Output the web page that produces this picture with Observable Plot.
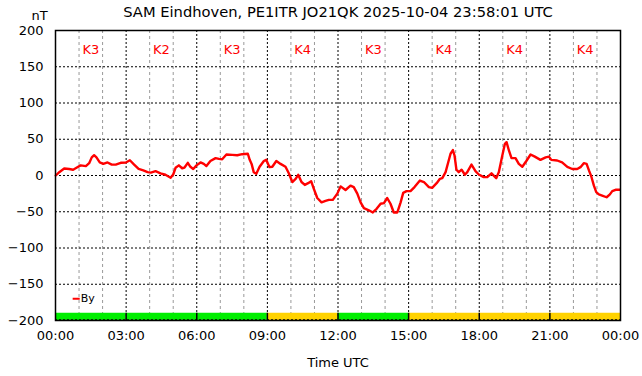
<!DOCTYPE html>
<html>
<head>
<meta charset="utf-8">
<script src="https://cdn.jsdelivr.net/npm/d3@7"></script>
<script src="https://cdn.jsdelivr.net/npm/@observablehq/plot@0.6"></script>
<style>
  html, body { margin: 0; padding: 0; background: #fff; }
  svg { font-family: "DejaVu Sans", sans-serif; }
</style>
</head>
<body>
<div id="chart"></div>
<script>
const title = "SAM Eindhoven, PE1ITR JO21QK 2025-10-04 23:58:01 UTC";
const xLabel = "Time UTC";
const yUnit = "nT";
const seriesName = "By";

// time in hours UTC
const hours = [0.01,0.16,0.37,0.58,0.75,0.89,1.07,1.29,1.43,1.54,1.64,1.74,1.88,2.03,2.21,2.39,2.56,2.77,2.99,3.16,3.34,3.53,3.73,3.91,4.05,4.25,4.46,4.67,4.89,5.00,5.10,5.24,5.38,5.48,5.62,5.73,5.85,5.99,6.16,6.30,6.41,6.58,6.80,6.94,7.08,7.26,7.51,7.72,7.93,8.17,8.25,8.33,8.42,8.53,8.67,8.85,8.95,9.09,9.21,9.38,9.56,9.77,9.91,10.06,10.20,10.31,10.45,10.59,10.73,10.86,10.97,11.12,11.30,11.47,11.61,11.78,11.97,12.11,12.32,12.53,12.67,12.82,12.96,13.10,13.31,13.48,13.64,13.81,13.95,14.09,14.23,14.37,14.52,14.66,14.77,14.91,15.08,15.25,15.48,15.65,15.86,16.00,16.19,16.33,16.43,16.57,16.68,16.78,16.88,16.95,17.03,17.13,17.25,17.39,17.49,17.67,17.84,17.98,18.19,18.34,18.52,18.72,18.83,18.98,19.09,19.16,19.26,19.37,19.54,19.68,19.83,20.00,20.18,20.36,20.60,20.82,20.96,21.06,21.31,21.52,21.74,21.95,22.16,22.30,22.44,22.56,22.66,22.76,22.87,22.97,23.08,23.22,23.41,23.55,23.65,23.79,23.97];
// By values in nT
const byValues = [0,4.6,9.7,9,8,10.6,14,13,17,25,28,25,18,16,18,15,15,17.5,18,21,15,9,7,4.6,4,6,3,1,-3,1.4,10.6,14,10,11,17.5,12,9,14,18,16,13,20,24,23,22.5,29,28.5,28,29.4,30,21.6,16,4.6,2.3,12,20,21.6,11.5,12,20,16,12,3,-9,-4.6,1,-9,-13,-10.6,-7.8,-18,-31,-37,-35,-33.6,-33.6,-25,-15,-20,-14,-16,-25,-37,-45,-48,-51,-46,-39,-38,-31,-39,-51,-51,-37,-24,-21.6,-21.6,-16,-7,-9,-16,-17,-10.6,-4.6,-3.7,4.6,18,30,35,27.6,8,4.6,8,1,4.6,15,6,1.4,-2.3,-2.3,3,-3.7,4.6,27.6,43.7,46,34.5,24,24,16,12,20,29,26,21.6,25,26,21.6,20.7,18,12,9,9,11.5,17,16,7,-1.4,-14,-23,-26,-27.6,-30,-26,-21.6,-19.7,-19.7];

// K index per 3-hour block
const kStart = [0,3,6,9,12,15,18,21];
const kIndex = [3,2,3,4,3,4,4,4];

const xTicks = [0,3,6,9,12,15,18,21,24];
const yTicks = [-200,-150,-100,-50,0,50,100,150,200];

const data = hours.map((h, i) => ({h, v: byValues[i]}));
const kData = kStart.map((s, i) => ({s, e: s + 3, k: kIndex[i]}));
const minorHours = d3.range(1, 24).filter(h => h % 3 !== 0);
const majorHours = [3,6,9,12,15,18,21];
const yGrid = [-150,-100,-50,0,50,100,150];

const fmt = h => String(h % 24).padStart(2, "0") + ":00";

const chart = Plot.plot({
  width: 642,
  height: 376,
  marginLeft: 55,
  marginRight: 22,
  marginTop: 30,
  marginBottom: 56,
  style: {fontFamily: "DejaVu Sans, sans-serif", fontSize: "13px", color: "#000", background: "#fff"},
  x: {domain: [0, 24], ticks: xTicks, tickFormat: fmt, label: null},
  y: {domain: [-200, 200], ticks: yTicks, label: null},
  marks: [
    Plot.ruleX(minorHours, {stroke: "#999", strokeDasharray: "3,3", strokeWidth: 1}),
    Plot.ruleX(majorHours, {stroke: "#000", strokeDasharray: "2,2", strokeWidth: 1}),
    Plot.ruleY(yGrid, {stroke: "#000", strokeDasharray: "2,2", strokeWidth: 1}),
    Plot.rect(kData, {x1: "s", x2: "e", y1: -200, y2: -190, fill: d => d.k >= 4 ? "#ffd200" : "#00ee00"}),
    Plot.ruleX(majorHours, {y1: -200, y2: -190, stroke: "#000", strokeWidth: 1.5}),
    Plot.ruleY([-199], {stroke: "#000", strokeDasharray: "2,2", strokeWidth: 1}),
    Plot.text(kData, {x: d => (d.s + d.e) / 2, y: 174, text: d => "K" + d.k, fill: "#ff0000", fontSize: 13}),
    Plot.line(data, {x: "h", y: "v", stroke: "#ff0000", strokeWidth: 2.4, curve: "linear"}),
    Plot.frame({stroke: "#000", strokeWidth: 1.5}),
    Plot.axisX({ticks: xTicks, tickFormat: fmt, tickSize: 0, tickPadding: 10, fontSize: 13, label: null}),
    Plot.axisY({ticks: yTicks, tickSize: 0, tickPadding: 12, fontSize: 13, label: null}),
    Plot.text([title], {frameAnchor: "top", lineAnchor: "middle", dy: -18, fontSize: 14.7, fill: "#000"}),
    Plot.text([yUnit], {frameAnchor: "top-left", lineAnchor: "middle", dx: -24, dy: -15, fontSize: 13, fill: "#000"}),
    Plot.text([xLabel], {frameAnchor: "bottom", lineAnchor: "middle", dy: 42, fontSize: 13, fill: "#000"}),
    Plot.ruleY([-170], {x1: 0.75, x2: 1.05, stroke: "#ff0000", strokeWidth: 2}),
    Plot.text([seriesName], {x: 1.07, y: -170, textAnchor: "start", fontSize: 11, fill: "#000"})
  ]
});
document.getElementById("chart").appendChild(chart);
</script>
</body>
</html>
